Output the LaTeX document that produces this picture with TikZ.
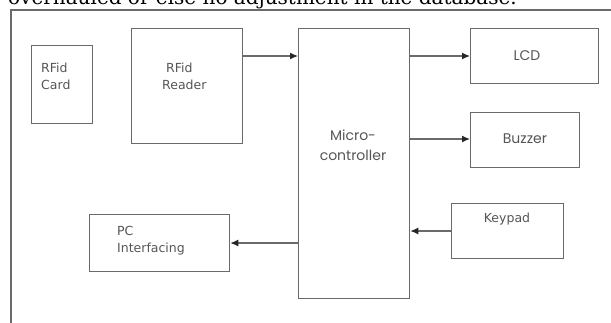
\documentclass[tikz,border=0pt]{standalone}
\usepackage{fontspec}
\setmainfont{DejaVu Serif}
\newfontfamily\tahomalike{DejaVu Sans}
\newfontfamily\geofont{Poppins}
\usetikzlibrary{arrows.meta}
\definecolor{linegray}{HTML}{6A6A6A}
\definecolor{textgray}{HTML}{555555}
\tikzset{
  box/.style={draw=linegray, line width=1.3pt, rectangle, inner sep=0pt, anchor=north west},
  conn/.style={draw=linegray, line width=1.2pt, -{Latex[length=8pt,width=7pt,color=black!85]}},
  lbl/.style={text=textgray, font=\tahomalike\fontsize{12.5}{17}\selectfont, inner sep=0pt, align=left},
  glbl/.style={text=textgray, font=\geofont\fontsize{14}{20}\selectfont, inner sep=0pt, align=center},
}
\begin{document}
\begin{tikzpicture}[x=1pt,y=-1pt]
\useasboundingbox (0,0) rectangle (611,322);
\clip (0,0) rectangle (611,322);
% cut-off caption line above the figure
\node[anchor=base west, inner sep=0pt, font=\fontsize{20}{22}\selectfont, text=black] (caption) at (8,4.5) {overhauled or else no adjustment in the database.};
% outer frame
\draw[linegray, line width=1.5pt] (11,10) rectangle (700,400);
% boxes
\node[box, minimum width=61pt, minimum height=78pt] (card) at (31,45) {};
\node[box, minimum width=111pt, minimum height=115pt] (reader) at (131,28) {};
\node[box, minimum width=111pt, minimum height=270pt] (mcu) at (298,28) {};
\node[box, minimum width=128pt, minimum height=55pt] (lcd) at (470,28) {};
\node[box, minimum width=109pt, minimum height=55pt] (buzzer) at (470,112) {};
\node[box, minimum width=112pt, minimum height=55pt] (keypad) at (451,203) {};
\node[box, minimum width=140pt, minimum height=57pt] (pc) at (89,214) {};
% texts
\node[lbl, anchor=west] (cardtxt) at (41,76) {RFid\\Card};
\node[lbl, anchor=west] (readertxt) at (162,76) {\hspace*{4pt}RFid\\Reader};
\node[glbl] (mcutxt) at (353,145) {Micro-\\controller};
\node[glbl] (lcdtxt) at (527,56) {LCD};
\node[glbl] (buzzertxt) at (525,139) {Buzzer};
\node[lbl] (keypadtxt) at (507,219) {Keypad};
\node[lbl, anchor=west] (pctxt) at (117,241) {PC\\Interfacing};
% connectors
\draw[conn] (reader.east |- 0,56) -- (mcu.west |- 0,56);
\draw[conn] (mcu.east |- 0,56) -- (lcd.west |- 0,56);
\draw[conn] (mcu.east |- 0,139) -- (buzzer.west |- 0,139);
\draw[conn] (keypad.west |- 0,231) -- (mcu.east |- 0,231);
\draw[conn] (mcu.west |- 0,243) -- (pc.east |- 0,243);
\end{tikzpicture}
\end{document}
